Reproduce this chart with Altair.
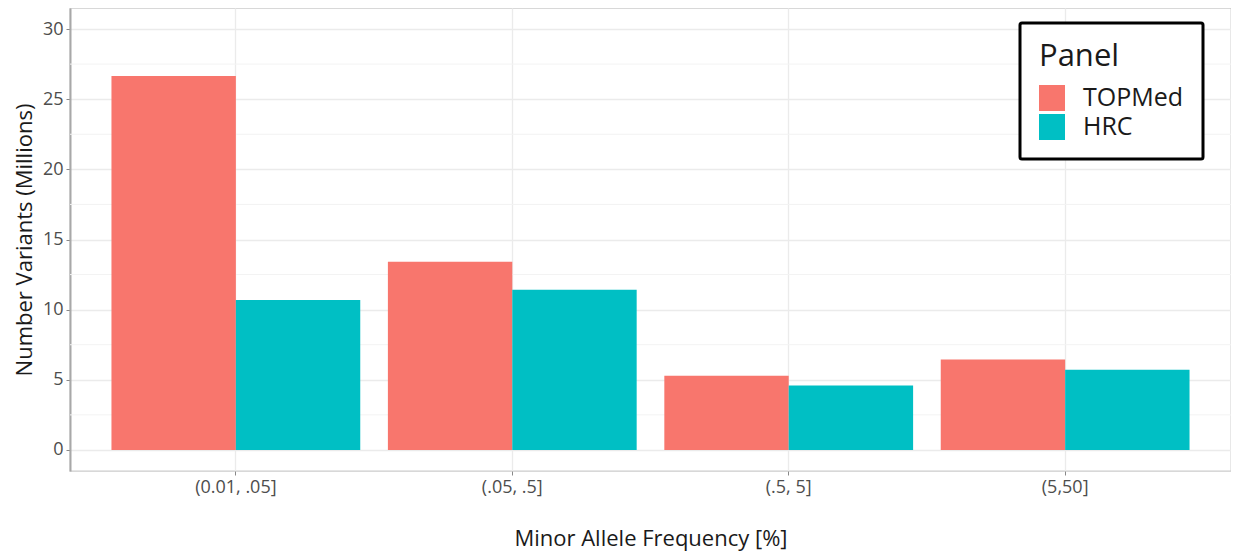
import altair as alt
import pandas as pd

categories = ["(0.01, .05]", "(.05, .5]", "(.5, 5]", "(5,50]"]
panels = ["TOPMed", "HRC"]
topmed = [26.65, 13.42, 5.28, 6.45]
hrc = [10.68, 11.42, 4.59, 5.72]
colors = ["#F8766D", "#00BFC4"]
major_ticks = [0, 5, 10, 15, 20, 25, 30]
minor_ticks = [2.5, 7.5, 12.5, 17.5, 22.5, 27.5]

rows = []
for c, t, h in zip(categories, topmed, hrc):
    rows.append({"MAF": c, "Panel": "TOPMed", "Count": t})
    rows.append({"MAF": c, "Panel": "HRC", "Count": h})
df = pd.DataFrame(rows)
minor_df = pd.DataFrame({"v": minor_ticks})

FONT = "Open Sans"
yscale = alt.Scale(domain=[-1.5, 31.5], nice=False, zero=False)

minor = alt.Chart(minor_df).mark_rule(color="#F3F3F3", strokeWidth=1).encode(
    y=alt.Y("v:Q", scale=yscale)
)

bars = alt.Chart(df).mark_bar(opacity=1).encode(
    x=alt.X(
        "MAF:N",
        sort=categories,
        scale=alt.Scale(paddingInner=0.1, paddingOuter=0.15),
        axis=alt.Axis(
            title="Minor Allele Frequency [%]",
            labelAngle=0,
            grid=True,
            gridColor="#EBEBEB",
            gridWidth=1.3,
            tickSize=4,
            tickColor="#888888",
            labelPadding=3,
            titlePadding=32,
            domain=False,
        ),
    ),
    xOffset=alt.XOffset("Panel:N", sort=panels, scale=alt.Scale(paddingInner=0, paddingOuter=0)),
    y=alt.Y(
        "Count:Q",
        scale=yscale,
        axis=alt.Axis(
            title="Number Variants (Millions)",
            values=major_ticks,
            grid=True,
            gridColor="#EBEBEB",
            gridWidth=1.3,
            tickSize=4,
            tickColor="#888888",
            labelPadding=3,
            titlePadding=6,
            domainColor="#A8A8A8",
            domainWidth=2,
        ),
    ),
    color=alt.Color(
        "Panel:N",
        sort=panels,
        scale=alt.Scale(domain=panels, range=colors),
        legend=alt.Legend(
            title="Panel",
            orient="none",
            legendX=950,
            legendY=15,
            strokeColor="#000000",
            fillColor="#FFFFFF",
            padding=19,
            cornerRadius=2,
            symbolType="square",
            symbolSize=676,
            symbolStrokeWidth=0,
            symbolOpacity=1,
            labelOffset=18,
            rowPadding=3,
            titlePadding=12,
        ),
    ),
)

chart = (
    alt.layer(minor, bars)
    .properties(
        width=1161,
        height=463,
        padding={"left": 62, "top": 0, "right": 0, "bottom": 80},
        autosize=alt.AutoSizeParams(type="none"),
    )
    .configure_view(stroke="#CCCCCC", strokeWidth=1.3)
    .configure_axis(
        labelFont=FONT,
        titleFont=FONT,
        labelFontSize=18,
        titleFontSize=22,
        labelColor="#4D4D4D",
        titleColor="#1A1A1A",
        titleFontWeight="normal",
    )
    .configure_legend(
        titleFont=FONT,
        labelFont=FONT,
        titleFontSize=31,
        labelFontSize=25,
        titleFontWeight="normal",
        titleColor="#1A1A1A",
        labelColor="#1A1A1A",
        strokeWidth=3,
    )
)

chart.save("out.html", embed_options={"renderer": "svg", "actions": False})
